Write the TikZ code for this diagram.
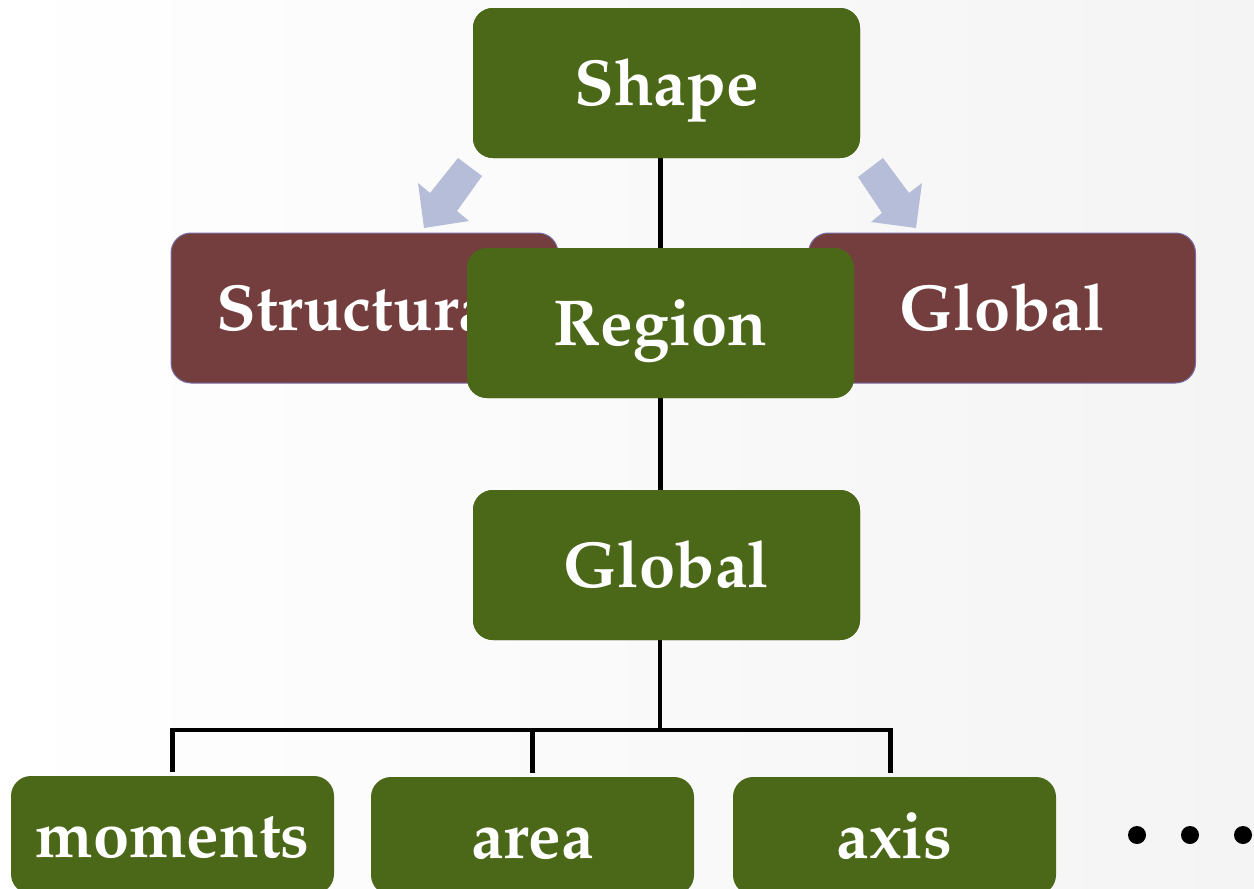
\documentclass[tikz,border=0pt]{standalone}
\usepackage[T1]{fontenc}
\usepackage{mathpazo}
\usetikzlibrary{calc}
\definecolor{leaf}{RGB}{75,103,24}
\definecolor{wine}{RGB}{116,62,62}
\definecolor{wineedge}{RGB}{120,110,165}
\definecolor{hint}{RGB}{181,189,216}
\definecolor{paper}{RGB}{244,244,244}
\tikzset{
  box/.style={rounded corners=20pt, inner sep=0pt, text=white,
    font=\fontsize{65}{72}\selectfont\bfseries,
    text height=50pt, text depth=6pt},
  topbox/.style={box, fill=leaf, minimum width=387pt, minimum height=150pt},
  sidebox/.style={box, fill=wine, draw=wineedge, line width=1pt,
    minimum width=387pt, minimum height=150pt},
  leafbox/.style={box, fill=leaf, minimum width=323pt, minimum height=118pt},
  tree/.style={draw=black, line width=4.5pt},
  hintarrow/.style={fill=hint}
}
\begin{document}
\begin{tikzpicture}[x=1pt, y=-1pt]
  % page and soft background
  \useasboundingbox (0,0) rectangle (1254,889);
  \clip (0,0) rectangle (1254,889);
  \shade[left color=white, right color=paper] (0,0) rectangle (1254,889);

  % block arrows pointing to the two sub-categories
  \fill[hintarrow] (458,158) -- (482,176) -- (457,211) -- (469,221)
    -- (424,228) -- (418,183) -- (430,193) -- cycle;
  \fill[hintarrow] (883,158) -- (858,177) -- (882,213) -- (871,222)
    -- (916,228) -- (922,183) -- (909,193) -- cycle;

  % side categories
  \node[sidebox] (structural) at (364.5,308) {Structural};
  \node[sidebox] (globalside) at (1002,308) {Global};

  % main hierarchy
  \node[topbox] (shape)  at (666.5,83)  {Shape};
  \node[topbox] (region) at (660.5,323) {Region};
  \node[topbox] (global) at (666.5,565) {Global};

  % descriptors
  \node[leafbox] (moments) at (172.5,835) {moments};
  \node[leafbox] (area)    at (532.5,836) {area};
  \node[leafbox] (axis)    at (894.5,836) {axis};

  % connectors
  \coordinate (bus) at (660,730);
  \draw[tree] (shape.south -| region.center) -- (region.north);
  \draw[tree] (region.south) -- (region.south |- global.north);
  \draw[tree] (global.south -| bus) -- (bus);
  \draw[tree, shorten >=4pt] (bus) -| (moments.north);
  \draw[tree, shorten >=4pt] (bus) -| (area.north);
  \draw[tree, shorten >=4pt] (bus) -| ([xshift=-4pt]axis.north);

  % redraw boxes above the connector ends
  \node[topbox] at (shape.center)  {Shape};
  \node[topbox] at (region.center) {Region};
  \node[topbox] at (global.center) {Global};

  % continuation marks
  \fill (1137,835) circle (9pt);
  \fill (1190,835) circle (9pt);
  \fill (1243,835) circle (9pt);
\end{tikzpicture}
\end{document}
